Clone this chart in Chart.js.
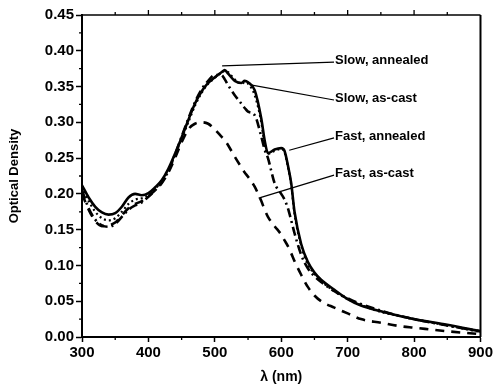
<!DOCTYPE html>
<html>
<head>
<meta charset="utf-8">
<script src="https://cdn.jsdelivr.net/npm/chart.js@4/dist/chart.umd.min.js"></script>
<style>
html, body { margin: 0; padding: 0; background: #fff; }
</style>
</head>
<body>
<canvas id="myChart" width="495" height="389"></canvas>
<script>
// wavelengths (nm) shared by all four spectra
const lambda = [300,310,320,330,340,350,360,370,380,390,400,410,420,430,440,450,460,470,480,490,
    500,510,515,520,530,540,545,550,560,570,575,580,590,600,605,610,615,620,630,640,
    650,660,680,700,720,750,780,800,850,900];

const slowAnnealed = [0.212,0.195,0.182,0.174,0.171,0.173,0.182,0.195,0.200,0.198,
    0.201,0.209,0.219,0.235,0.256,0.279,0.303,0.326,0.343,0.355,
    0.363,0.370,0.373,0.368,0.358,0.355,0.358,0.356,0.345,0.305,0.275,0.257,0.262,0.264,0.260,0.240,0.215,0.175,0.130,0.105,
    0.090,0.080,0.066,0.053,0.044,0.036,0.029,0.025,0.017,0.008];

const slowAsCast = [0.205,0.180,0.164,0.156,0.154,0.158,0.168,0.178,0.184,0.188,
    0.196,0.205,0.216,0.232,0.255,0.280,0.305,0.328,0.346,0.358,
    0.366,0.366,0.360,0.352,0.338,0.326,0.320,0.315,0.310,0.280,0.262,0.250,0.215,0.200,0.192,0.180,0.163,0.145,0.115,0.096,
    0.085,0.077,0.064,0.054,0.046,0.037,0.029,0.025,0.016,0.008];

const fastAnnealed = [0.210,0.190,0.175,0.166,0.163,0.166,0.175,0.186,0.192,0.194,
    0.198,0.207,0.217,0.233,0.254,0.277,0.300,0.323,0.341,0.354,
    0.362,0.369,0.372,0.370,0.360,0.354,0.356,0.354,0.338,0.300,0.270,0.256,0.260,0.263,0.258,0.238,0.212,0.172,0.128,0.102,
    0.088,0.078,0.064,0.053,0.045,0.035,0.029,0.025,0.016,0.007];

const fastAsCast = [0.200,0.178,0.162,0.155,0.156,0.160,0.170,0.180,0.186,0.190,
    0.197,0.205,0.215,0.230,0.250,0.272,0.290,0.298,0.300,0.298,
    0.290,0.280,0.275,0.268,0.252,0.237,0.230,0.224,0.210,0.190,0.178,0.168,0.155,0.143,0.135,0.127,0.117,0.106,0.087,0.070,
    0.058,0.050,0.041,0.033,0.025,0.020,0.015,0.013,0.008,0.004];

// callout labels: text, where the text starts (nm, OD), and the point the leader line touches
const noteText  = ['Slow, annealed', 'Slow, as-cast', 'Fast, annealed', 'Fast, as-cast'];
const noteX     = [681, 681, 681, 681];
const noteY     = [0.387, 0.334, 0.281, 0.229];
const noteTipX  = [511, 556, 612, 566];
const noteTipY  = [0.379, 0.352, 0.261, 0.194];

const xTicks = [300, 400, 500, 600, 700, 800, 900];
const yTicks = [0, 0.05, 0.10, 0.15, 0.20, 0.25, 0.30, 0.35, 0.40, 0.45];

function pts(ys) {
    return lambda.map((x, i) => ({ x: x, y: ys[i] }));
}

const frame = {
    id: 'frame',
    afterDraw(chart) {
        const ctx = chart.ctx;
        const a = chart.chartArea;
        const xs = chart.scales.x;
        const ys = chart.scales.y;
        ctx.save();
        ctx.strokeStyle = '#000';
        ctx.lineWidth = 1.5;
        ctx.beginPath();
        ctx.moveTo(a.left, a.top);
        ctx.lineTo(a.right, a.top);
        ctx.stroke();
        ctx.lineWidth = 2;
        ctx.beginPath();
        ctx.moveTo(a.right, a.top);
        ctx.lineTo(a.right, a.bottom);
        ctx.stroke();

        // minor ticks, and the ticks on the top edge
        ctx.lineWidth = 1.3;
        ctx.beginPath();
        for (let v = 350; v < 900; v += 50) {
            const px = xs.getPixelForValue(v);
            const major = v % 100 === 0;
            ctx.moveTo(px, a.top);
            ctx.lineTo(px, a.top - (major ? 5 : 3));
            if (!major) {
                ctx.moveTo(px, a.bottom);
                ctx.lineTo(px, a.bottom + 3);
            }
        }
        for (let k = 1; k < 18; k += 2) {
            const py = ys.getPixelForValue(k * 0.025);
            ctx.moveTo(a.left, py);
            ctx.lineTo(a.left - 3, py);
        }
        ctx.stroke();

        // callouts
        ctx.font = 'bold 13px "Liberation Sans", Arial, sans-serif';
        ctx.fillStyle = '#000';
        ctx.textBaseline = 'middle';
        ctx.textAlign = 'left';
        ctx.lineWidth = 1.2;
        noteText.forEach((t, i) => {
            const tx = xs.getPixelForValue(noteX[i]);
            const ty = ys.getPixelForValue(noteY[i]);
            ctx.beginPath();
            ctx.moveTo(tx - 1, ty + 2);
            ctx.lineTo(xs.getPixelForValue(noteTipX[i]), ys.getPixelForValue(noteTipY[i]));
            ctx.stroke();
            ctx.fillText(t, tx, ty);
        });
        ctx.restore();
    }
};

const tickFont = { family: '"Liberation Sans", Arial, sans-serif', size: 15, weight: 'bold' };

new Chart(document.getElementById('myChart').getContext('2d'), {
    type: 'line',
    data: {
        datasets: [
            { label: 'Fast, as-cast', data: pts(fastAsCast), borderColor: '#000', borderWidth: 2.6, borderDash: [9, 7] },
            { label: 'Slow, as-cast', data: pts(slowAsCast), borderColor: '#000', borderWidth: 2.6, borderDash: [9, 4, 2, 4] },
            { label: 'Fast, annealed', data: pts(fastAnnealed), borderColor: '#000', borderWidth: 2.2, borderDash: [2, 3] },
            { label: 'Slow, annealed', data: pts(slowAnnealed), borderColor: '#000', borderWidth: 2.6 }
        ]
    },
    options: {
        responsive: false,
        animation: false,
        cubicInterpolationMode: 'monotone',
        elements: { point: { radius: 0 } },
        layout: { padding: { top: 15, right: 14, left: 0, bottom: 0 } },
        plugins: { legend: { display: false }, tooltip: { enabled: false } },
        scales: {
            x: {
                type: 'linear',
                min: 300,
                max: 900,
                afterFit(s) { s.height = 52; },
                afterBuildTicks(s) { s.ticks = xTicks.map(v => ({ value: v })); },
                border: { color: '#000', width: 2 },
                grid: { drawOnChartArea: false, color: '#000', tickLength: 5, tickWidth: 1.5 },
                ticks: { color: '#000', font: tickFont, padding: 2, maxRotation: 0 },
                title: { display: true, text: 'λ (nm)', color: '#000', padding: { top: 0, bottom: 3 },
                    font: { family: '"Liberation Sans", Arial, sans-serif', size: 14, weight: 'bold' } }
            },
            y: {
                min: 0,
                max: 0.45,
                afterFit(s) { s.width = 82; },
                afterBuildTicks(s) { s.ticks = yTicks.map(v => ({ value: v })); },
                border: { color: '#000', width: 2 },
                grid: { drawOnChartArea: false, color: '#000', tickLength: 6, tickWidth: 1.5 },
                ticks: { color: '#000', font: tickFont, padding: 2, callback: v => v.toFixed(2) },
                title: { display: true, text: 'Optical Density', color: '#000', padding: { top: 7, bottom: 0 },
                    font: { family: '"Liberation Sans", Arial, sans-serif', size: 13, weight: 'bold' } }
            }
        }
    },
    plugins: [frame]
});
</script>
</body>
</html>
